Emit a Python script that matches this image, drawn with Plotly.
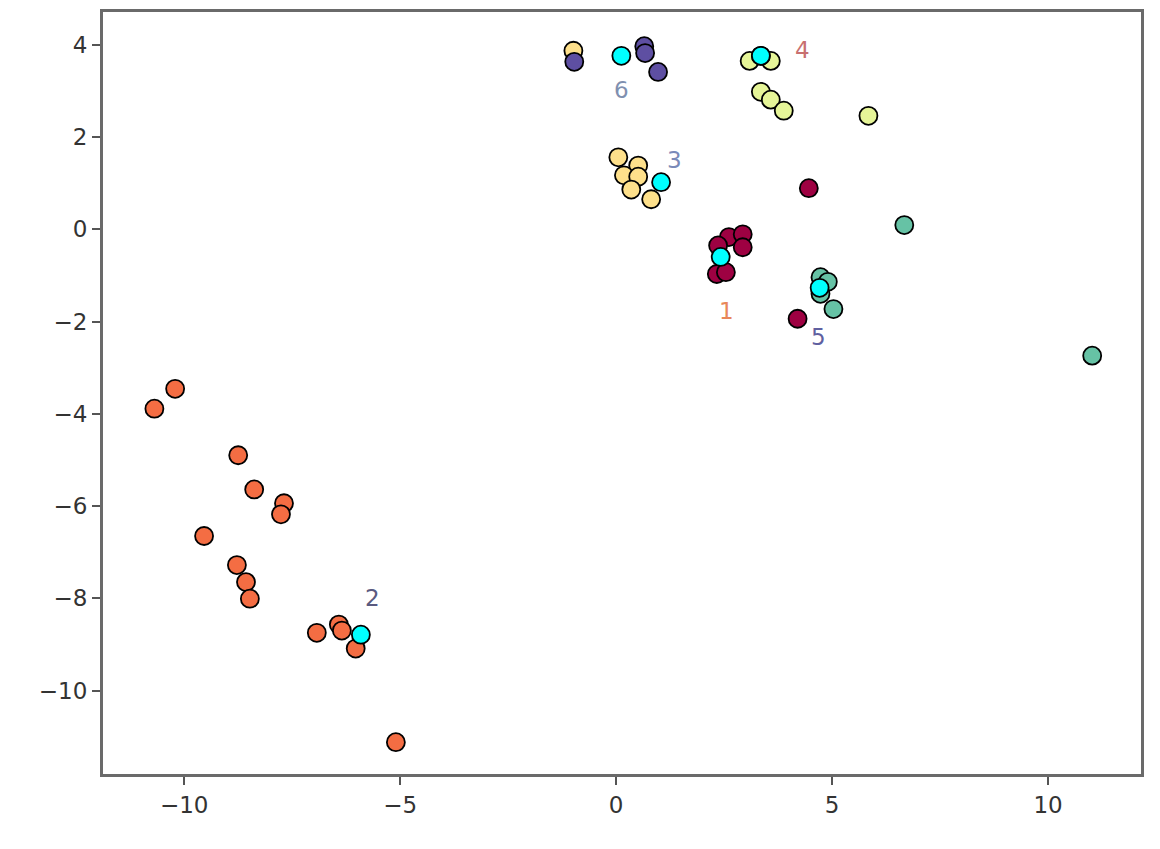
import plotly.graph_objects as go

# cluster members (x, y), one list per cluster
c1_x = [4.46, 2.61, 2.93, 2.93, 2.36, 2.33, 2.54, 4.20]
c1_y = [0.89, -0.17, -0.11, -0.39, -0.35, -0.97, -0.93, -1.94]

c2_x = [-10.21, -10.69, -8.75, -8.38, -7.69, -7.76, -9.54, -8.78, -8.57, -8.48,
        -6.93, -6.42, -6.35, -6.03, -5.10]
c2_y = [-3.46, -3.89, -4.90, -5.64, -5.94, -6.18, -6.65, -7.28, -7.65, -8.01,
        -8.75, -8.57, -8.70, -9.09, -11.12]

c3_x = [-0.99, 0.05, 0.51, 0.18, 0.51, 0.35, 0.81]
c3_y = [3.87, 1.56, 1.38, 1.17, 1.14, 0.86, 0.65]

c4_x = [3.09, 3.58, 3.35, 3.35, 3.58, 3.88, 5.84]
c4_y = [3.65, 3.65, 3.76, 2.98, 2.81, 2.57, 2.46]

c5_x = [4.73, 4.90, 4.73, 5.03, 6.67, 11.02]
c5_y = [-1.04, -1.14, -1.40, -1.73, 0.09, -2.74]

c6_x = [-0.97, 0.65, 0.67, 0.97]
c6_y = [3.63, 3.97, 3.82, 3.41]

# cluster centres and their number labels
centre_x = [2.42, -5.91, 1.04, 3.35, 4.71, 0.12]
centre_y = [-0.60, -8.79, 1.02, 3.76, -1.27, 3.76]
label_text = ["1", "2", "3", "4", "5", "6"]
label_x = [2.56, -5.64, 1.36, 4.32, 4.69, 0.12]
label_y = [-1.78, -7.99, 1.51, 3.89, -2.33, 3.02]

cluster_colors = ["#9e0142", "#f46d43", "#fee08b", "#e6f598", "#66c2a5", "#5e4fa2"]
label_colors = ["#e8875a", "#5a5a80", "#7a8ab8", "#c87070", "#6060a0", "#8090b0"]

clusters = [(c1_x, c1_y), (c2_x, c2_y), (c3_x, c3_y),
            (c4_x, c4_y), (c5_x, c5_y), (c6_x, c6_y)]

fig = go.Figure()

for (xs, ys), col in zip(clusters, cluster_colors):
    fig.add_trace(go.Scatter(
        x=xs, y=ys, mode='markers',
        marker=dict(size=18, color=col, line=dict(color='black', width=1.8)),
        showlegend=False
    ))

fig.add_trace(go.Scatter(
    x=centre_x, y=centre_y, mode='markers',
    marker=dict(size=18, color='#00ffff', line=dict(color='black', width=1.8)),
    showlegend=False
))

for t, lx, ly, lc in zip(label_text, label_x, label_y, label_colors):
    fig.add_annotation(x=lx, y=ly, text=t, showarrow=False,
                       font=dict(family='DejaVu Sans', size=23, color=lc))

axis_style = dict(
    showgrid=False, zeroline=False,
    showline=True, mirror=True, linecolor='#6a6a6a', linewidth=3,
    ticks='outside', ticklen=8, tickwidth=1.5, tickcolor='#555555',
    tickfont=dict(family='DejaVu Sans', size=23, color='#333333'),
)

fig.update_xaxes(range=[-11.88, 12.15], tickvals=[-10, -5, 0, 5, 10], **axis_style)
fig.update_yaxes(range=[-11.81, 4.71], tickvals=[-10, -8, -6, -4, -2, 0, 2, 4], **axis_style)

# page body adds an 8px margin, so the figure is sized to sit inside the window
fig.update_layout(
    width=1144, height=833,
    margin=dict(l=95, r=11, t=1, b=67),
    plot_bgcolor='white', paper_bgcolor='white',
)

fig.write_html("out.html")
